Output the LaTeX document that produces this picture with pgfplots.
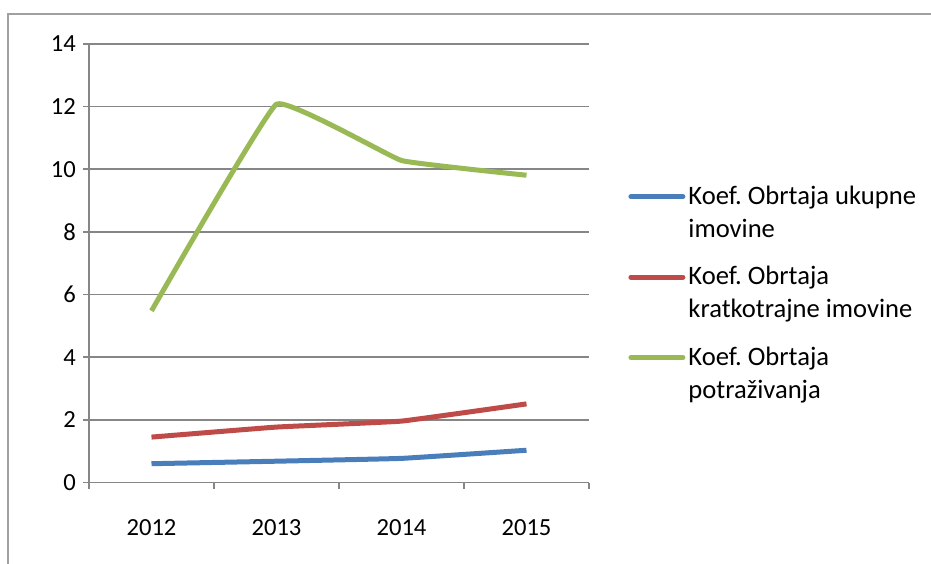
\documentclass[border=0pt]{standalone}
\usepackage{fontspec}
\setmainfont{Carlito}
\usepackage{pgfplots}
\pgfplotsset{compat=1.18}
\definecolor{sblue}{HTML}{4A7EBB}
\definecolor{sred}{HTML}{BE4B48}
\definecolor{sgreen}{HTML}{98B954}
\definecolor{gridc}{HTML}{868686}
\definecolor{framec}{HTML}{A0A0A0}
\frenchspacing
\begin{document}
\begin{tikzpicture}
\useasboundingbox (0,0) rectangle (465.5pt,281.5pt);
\draw[framec, line width=0.8pt] (4pt,-5pt) -- (4pt,274.5pt) -- (470pt,274.5pt);
\begin{axis}[
  scale only axis, width=250pt, height=219.25pt,
  at={(44.5pt,40.25pt)}, anchor=south west,
  xmin=0.5, xmax=4.5, ymin=0, ymax=14,
  axis lines*=left,
  axis line style={gridc, line width=0.8pt},
  ytick={0,2,...,14},
  xtick={1,2,3,4},
  xticklabels={2012,2013,2014,2015},
  minor xtick={0.5,1.5,2.5,3.5,4.5},
  tick align=outside,
  major tick length=3pt, minor tick length=3pt,
  tick style={gridc, line width=0.8pt},
  xtick style={draw=none},
  minor x tick style={draw=gridc, line width=0.8pt},
  ymajorgrids,
  grid style={gridc, line width=0.8pt},
  /pgf/number format/assume math mode=true,
  tick label style={font=\fontsize{12.3}{14}\selectfont, black},
  xticklabel style={yshift=-12pt},
  legend style={draw=none, fill=none, at={(1.078,0.684)}, anchor=north west,
    inner sep=0pt, row sep=10pt,
    font=\fontsize{13.3}{16.5}\selectfont,
    cells={align=left, anchor=west},
    nodes={inner sep=1.5pt}},
  legend image code/.code={\draw[line width=2.5pt, line cap=round, #1] (0pt,8.25pt) -- (26pt,8.25pt);},
]
\addplot[sblue, line width=2.5pt, smooth, tension=0.15] coordinates {(1,0.6) (2,0.68) (3,0.77) (4,1.03)};
\addlegendentry{Koef. Obrtaja ukupne\\imovine}
\addplot[sred, line width=2.5pt, smooth, tension=0.15] coordinates {(1,1.45) (2,1.77) (3,1.96) (4,2.51)};
\addlegendentry{Koef. Obrtaja\\kratkotrajne imovine}
\addplot[sgreen, line width=2.5pt, smooth, tension=0.15] coordinates {(1,5.48) (2,12.08) (3,10.28) (4,9.81)};
\addlegendentry{Koef. Obrtaja\\potraživanja}
\end{axis}
\end{tikzpicture}
\end{document}
